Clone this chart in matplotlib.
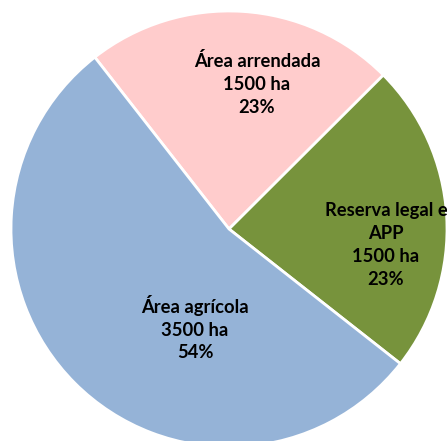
import matplotlib
matplotlib.use('Agg')
import matplotlib.pyplot as plt

labels = ['Área arrendada', 'Reserva legal e\nAPP', 'Área agrícola']
areas = [1500, 1500, 3500]
colors = ['#FFCCCC', '#77933C', '#95B3D7']

W, H = 447, 441
fig = plt.figure(figsize=(W / 100, H / 100), dpi=100)
ax = fig.add_axes([0, 0, 1, 1])

cx, cy, r = 229, H - 229, 218
total = sum(areas)
texts = ['{}\n{} ha\n{:.0f}%'.format(l, a, 100 * a / total) for l, a in zip(labels, areas)]

wedges, _ = ax.pie(areas, colors=colors, startangle=128, counterclock=False,
                   center=(cx, cy), radius=r, frame=True,
                   wedgeprops=dict(edgecolor='white', linewidth=2))
ax.set_xlim(0, W)
ax.set_ylim(0, H)
ax.axis('off')

# label positions (pixels from top-left)
label_xy = [(257, 84), (386, 245), (195, 328)]
for t, (x, y) in zip(texts, label_xy):
    ax.text(x, H - y, t, ha='center', va='center', fontsize=13.2,
            fontweight='bold', family='Lato', linespacing=1.42, color='black')

fig.savefig('out.png', dpi=100)
